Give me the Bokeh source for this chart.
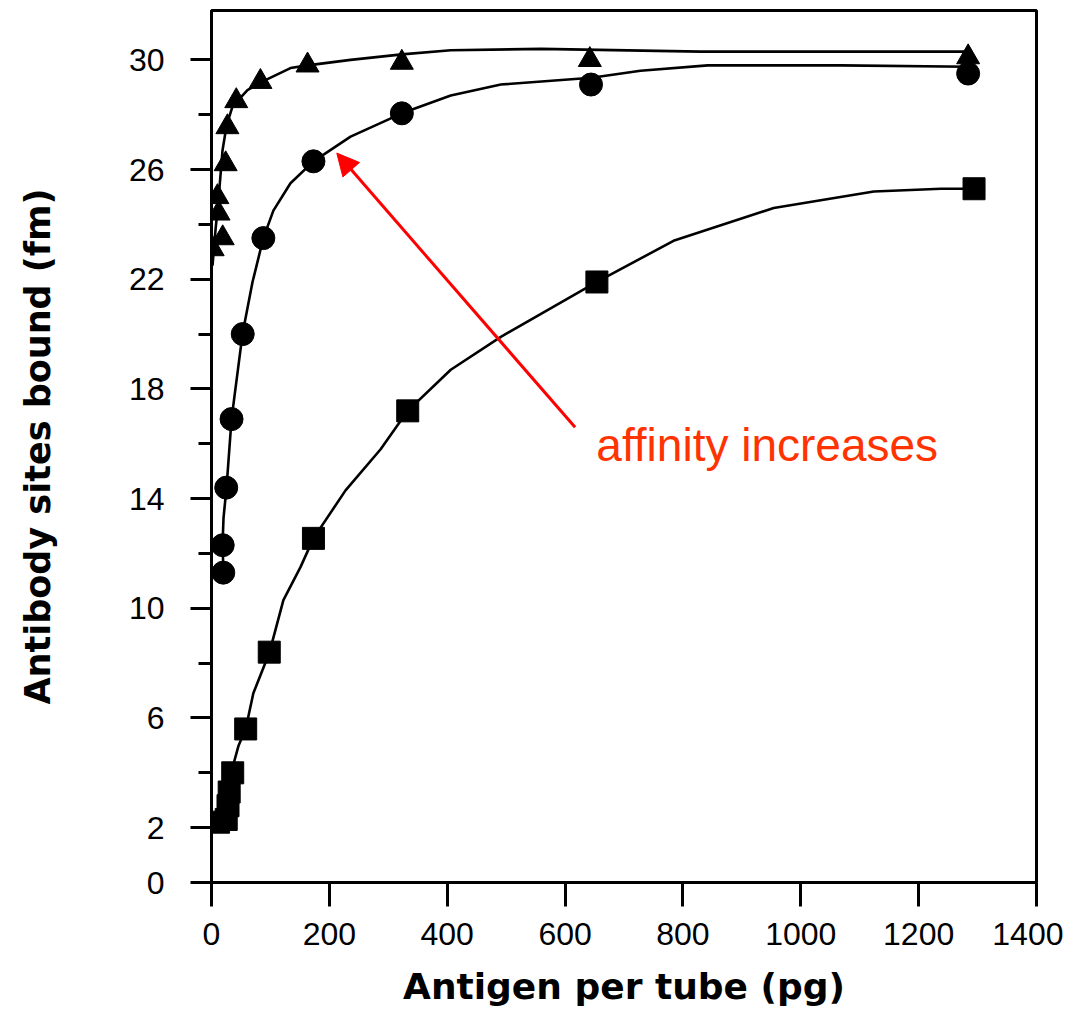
from bokeh.plotting import figure
from bokeh.models import FixedTicker, Arrow, NormalHead, Label, Range1d
from bokeh.embed import file_html
from bokeh.resources import INLINE

# ---- data ----
x_ticks = [0, 200, 400, 600, 800, 1000, 1200, 1400]
y_ticks = [0, 2, 6, 10, 14, 18, 22, 26, 30]
y_minor = [4, 8, 12, 16, 20, 24, 28]

# triangles (highest affinity)
tri_x = [2, 10, 12, 19, 24, 27, 42, 83, 163, 323, 642, 1284]
tri_y = [23.1, 25.0, 24.4, 23.5, 26.2, 27.55, 28.5, 29.2, 29.8, 29.9, 30.0, 30.1]
# circles
cir_x = [20, 19, 25, 34, 53, 88, 173, 323, 644, 1284]
cir_y = [11.3, 12.3, 14.4, 16.9, 20.0, 23.5, 26.3, 28.05, 29.1, 29.5]
# squares (lowest affinity)
sq_x = [12, 25, 28, 30, 36, 58, 98, 173, 333, 654, 1294]
sq_y = [2.2, 2.3, 2.8, 3.3, 4.0, 5.6, 8.4, 12.55, 17.2, 21.9, 25.3]

# fitted curves
tri_curve_x = [1.7, 6.8, 11.9, 18.7, 25.5, 35.7, 61, 95, 134, 163, 236, 323, 406, 559, 830, 1284]
tri_curve_y = [22.5, 23.8, 24.9, 26.7, 27.6, 28.3, 28.9, 29.3, 29.7, 29.8, 30.0, 30.2, 30.35, 30.4, 30.3, 30.3]
cir_curve_x = [20.4, 18.7, 20.4, 25.5, 34, 52.6, 69.6, 88, 105, 134, 173, 236, 323, 406, 491, 645, 728, 842, 1068, 1284]
cir_curve_y = [11.3, 12.3, 13.3, 14.4, 16.9, 20.0, 21.9, 23.5, 24.5, 25.5, 26.3, 27.2, 28.05, 28.7, 29.1, 29.35, 29.6, 29.8, 29.8, 29.75]
sq_curve_x = [8.5, 22, 32, 46, 58, 71, 98.5, 122, 151, 173, 227.5, 287, 333, 406, 491, 654, 784, 954, 1124, 1238, 1294]
sq_curve_y = [1.9, 2.6, 3.9, 5.0, 5.6, 6.9, 8.4, 10.3, 11.5, 12.55, 14.3, 15.8, 17.2, 18.7, 19.9, 21.9, 23.4, 24.6, 25.2, 25.3, 25.3]

# annotation
note_text = "affinity increases"
note_pos = (653, 15.95)
arrow_from = (617, 16.6)
arrow_to = (212.6, 26.6)

# ---- figure ----
p = figure(width=1063, height=1017, output_backend="svg", toolbar_location=None,
           x_range=Range1d(0, 1400), y_range=Range1d(0, 31.8),
           min_border_left=211, min_border_right=27, min_border_top=10, min_border_bottom=135)
p.background_fill_color = "white"
p.border_fill_color = "white"
p.grid.visible = False
p.outline_line_color = "black"
p.outline_line_width = 3

xa = p.xaxis[0]
xa.ticker = FixedTicker(ticks=x_ticks, minor_ticks=[])
xa.axis_label = "Antigen per tube (pg)"
ya = p.yaxis[0]
ya.ticker = FixedTicker(ticks=y_ticks, minor_ticks=y_minor)
ya.axis_label = "Antibody sites bound (fm)"

for ax in (xa, ya):
    ax.axis_line_width = 3
    ax.axis_line_color = "black"
    ax.major_tick_line_width = 3
    ax.minor_tick_line_width = 3
    ax.major_tick_in = 0
    ax.minor_tick_in = 0
    ax.major_label_text_font = "Liberation Sans"
    ax.major_label_text_font_size = "32px"
    ax.major_label_text_color = "black"
    ax.axis_label_text_font = "DejaVu Sans"
    ax.axis_label_text_font_style = "bold"
    ax.axis_label_text_color = "black"

xa.major_tick_out = 24
xa.minor_tick_out = 0
xa.major_label_standoff = 16
xa.axis_label_text_font_size = "36px"
xa.axis_label_standoff = 18

ya.major_tick_out = 21
ya.minor_tick_out = 13
ya.major_label_standoff = 26
ya.axis_label_text_font_size = "35px"
ya.axis_label_standoff = 68

lw = 2.6
p.line(tri_curve_x, tri_curve_y, line_color="black", line_width=lw)
p.line(cir_curve_x, cir_curve_y, line_color="black", line_width=lw)
p.line(sq_curve_x, sq_curve_y, line_color="black", line_width=lw)

p.scatter(tri_x, tri_y, marker="triangle", size=23, fill_color="black", line_color="black")
p.scatter(cir_x, cir_y, marker="circle", size=23, fill_color="black", line_color="black")
p.scatter(sq_x, sq_y, marker="square", size=22, fill_color="black", line_color="black")

p.add_layout(Arrow(end=NormalHead(size=22, fill_color="#FF0000", line_color="#FF0000", line_width=1),
                   x_start=arrow_from[0], y_start=arrow_from[1],
                   x_end=arrow_to[0], y_end=arrow_to[1],
                   line_color="#FF0000", line_width=3))
p.add_layout(Label(x=note_pos[0], y=note_pos[1], text=note_text,
                   text_font="Liberation Sans", text_font_size="46px",
                   text_color="#FF3300", text_baseline="alphabetic"))

open("out.html", "w").write(file_html(p, INLINE))
